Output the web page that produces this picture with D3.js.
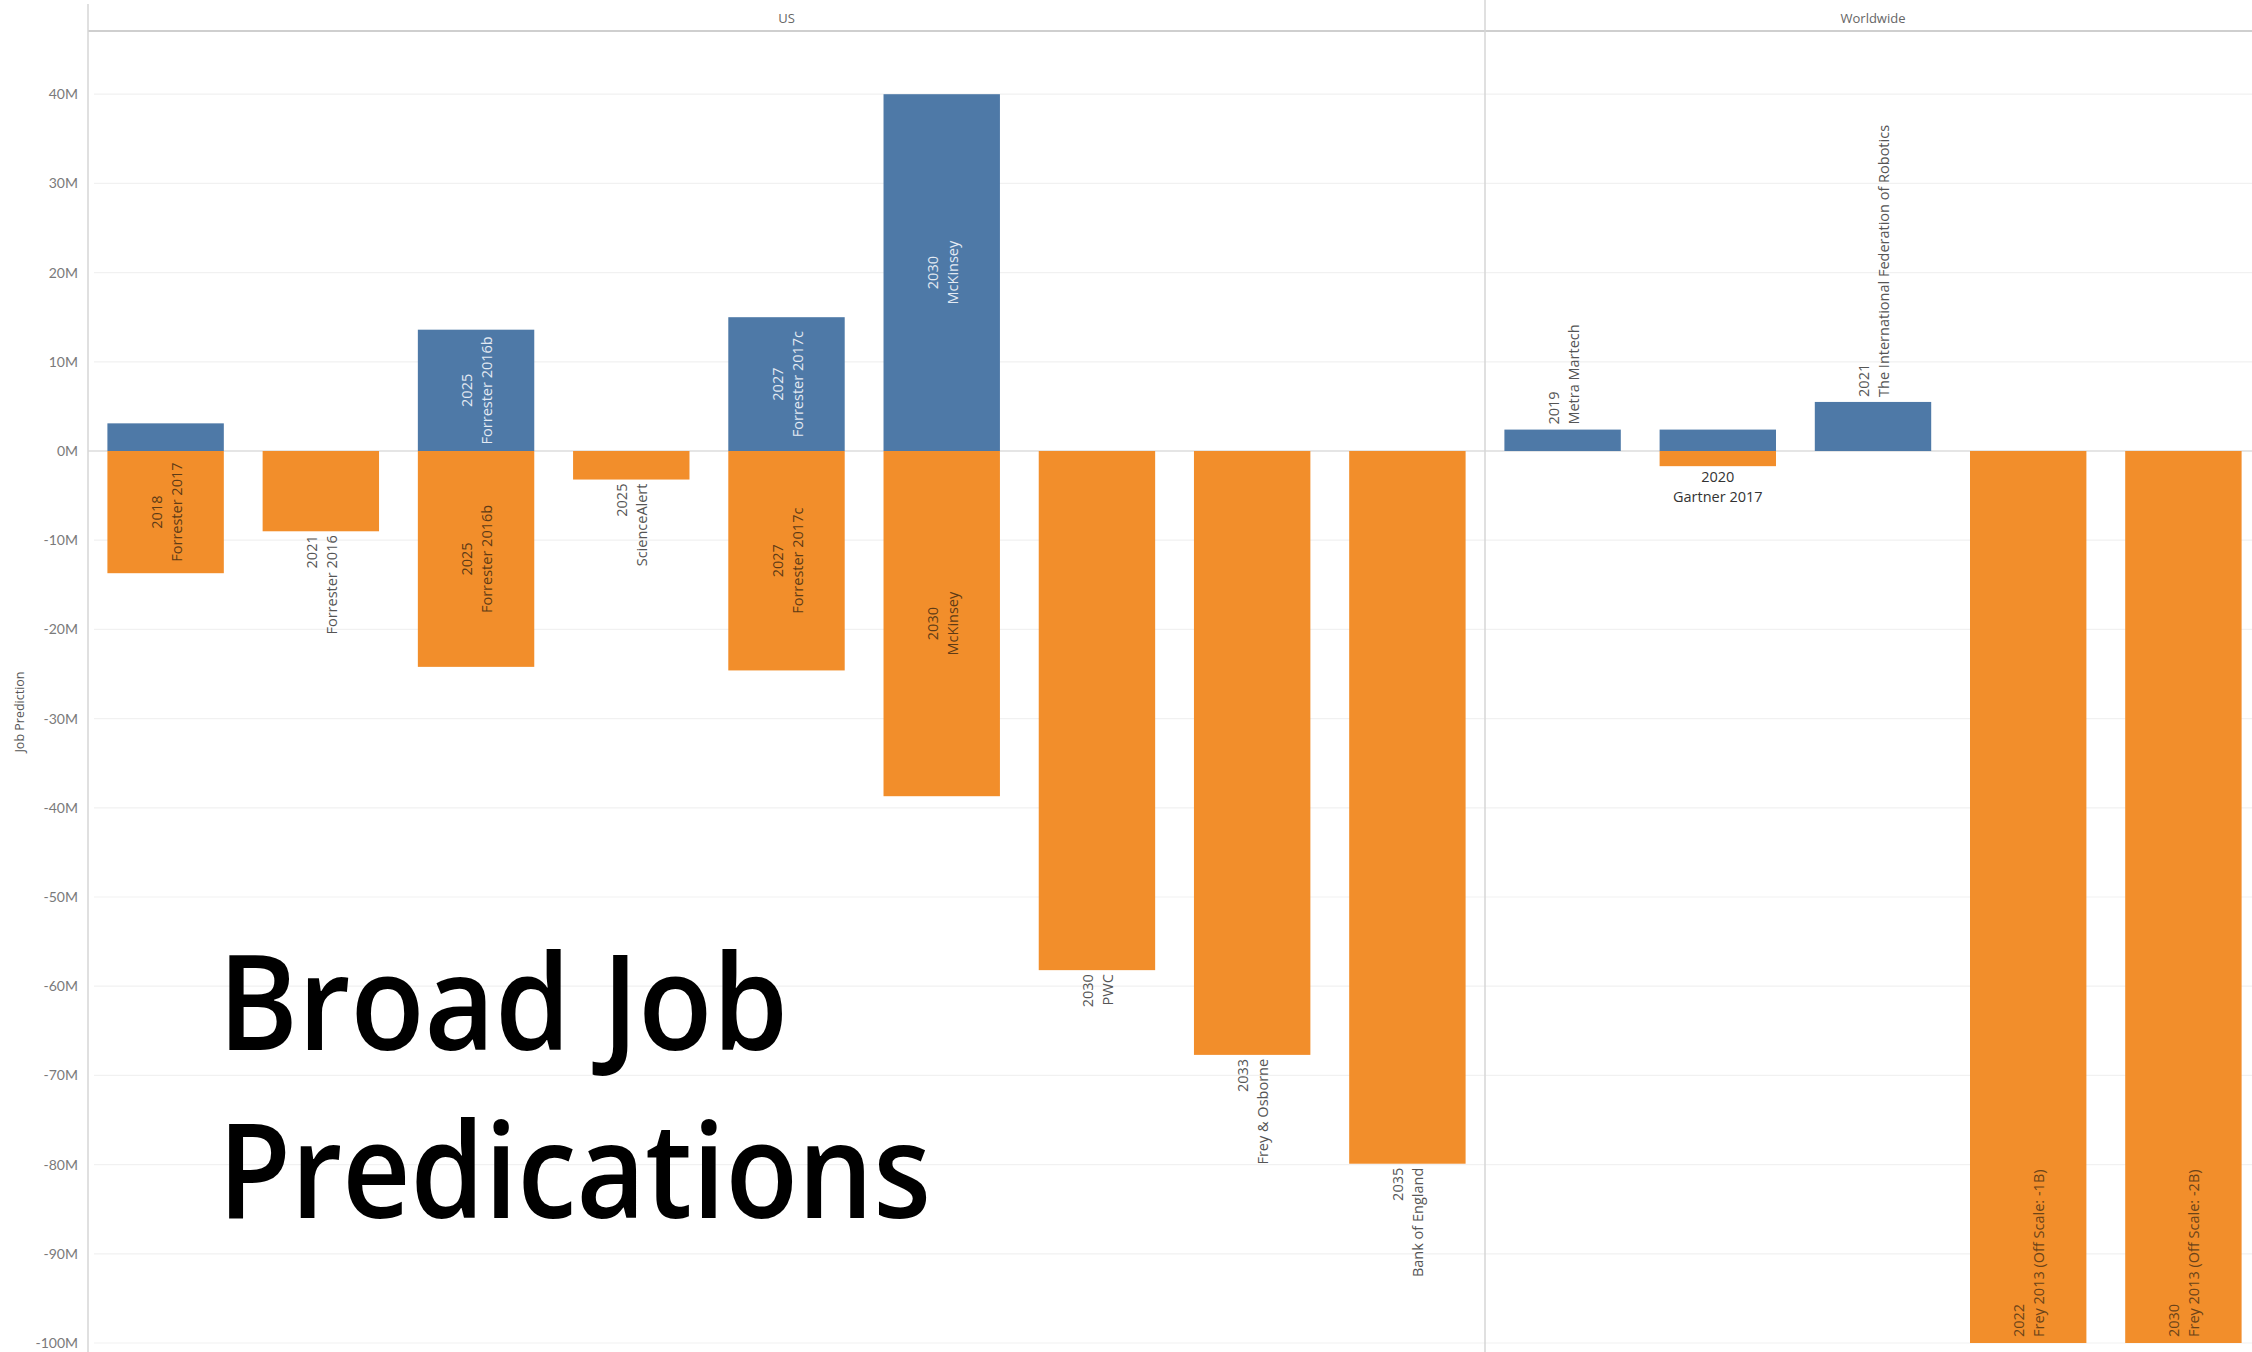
<!DOCTYPE html>
<html>
<head>
<meta charset="utf-8">
<script src="https://cdn.jsdelivr.net/npm/d3@7"></script>
<style>
  html, body { margin: 0; padding: 0; background: #fff; }
  svg { display: block; }
</style>
</head>
<body>
<svg id="chart" width="2252" height="1352"></svg>
<script>
// ---------------- DATA ----------------
const panes = ["US", "Worldwide"];

const usYears   = [2018, 2021, 2025, 2025, 2027, 2030, 2030, 2033, 2035];
const usSources = ["Forrester 2017", "Forrester 2016", "Forrester 2016b", "ScienceAlert",
                   "Forrester 2017c", "McKinsey", "PWC", "Frey & Osborne", "Bank of England"];
const usGains   = [3.1, 0, 13.6, 0, 15.0, 40.0, 0, 0, 0];            // millions
const usLosses  = [-13.7, -9.0, -24.2, -3.2, -24.6, -38.7, -58.2, -67.7, -79.9];

const wwYears   = [2019, 2020, 2021, 2022, 2030];
const wwSources = ["Metra Martech", "Gartner 2017", "The International Federation of Robotics",
                   "Frey 2013 (Off Scale: -1B)", "Frey 2013 (Off Scale: -2B)"];
const wwGains   = [2.4, 2.4, 5.5, 0, 0];
const wwLosses  = [0, -1.7, 0, -1000, -2000];

const yTicks = [40, 30, 20, 10, 0, -10, -20, -30, -40, -50, -60, -70, -80, -90, -100];
const yTitle = "Job Prediction";
const titleLines = ["Broad Job", "Predications"];

// ---------------- DRAWING ----------------
const W = 2252, H = 1352;
const svg = d3.select("#chart");
svg.append("rect").attr("width", W).attr("height", H).attr("fill", "#fff");

const BLUE = "#4e79a7", ORANGE = "#f28e2b";
const axisX = 88, headerY = 31, paneSplit = 1485, paneEnd = 2261;
const yMin = -100, yMax = 40;

// 0 at y=451, -100 at y=1343
const y = d3.scaleLinear().domain([-100, 0]).range([1343, 451]);

// label placement modes per bar: [gainLabel, lossLabel]
const usModes = [["none","in"],["none","below"],["in","in"],["none","below"],["in","in"],["in","in"],
                 ["none","below"],["none","below"],["none","below"]];
const wwModes = [["above","none"],["none","hbelow"],["above","none"],["none","inBottom"],["none","inBottom"]];

const paneDefs = [
  { name: panes[0], years: usYears, sources: usSources, gains: usGains, losses: usLosses, modes: usModes, x0: axisX, x1: paneSplit },
  { name: panes[1], years: wwYears, sources: wwSources, gains: wwGains, losses: wwLosses, modes: wwModes, x0: paneSplit, x1: paneEnd }
];

// gridlines
const grid = svg.append("g");
grid.selectAll("line").data(yTicks.filter(t => t !== 0)).join("line")
  .attr("x1", axisX + 6).attr("x2", W)
  .attr("y1", d => y(d)).attr("y2", d => y(d))
  .attr("stroke", "#f1f1f1").attr("stroke-width", 1.2);

// zero line
svg.append("line").attr("x1", axisX).attr("x2", W).attr("y1", y(0)).attr("y2", y(0))
  .attr("stroke", "#dcdcdc").attr("stroke-width", 1.5);

const labelFont = "'Open Sans', 'DejaVu Sans', sans-serif";
const clampV = v => Math.max(yMin, Math.min(yMax, v));

function rotLabel(g, cx, yPos, anchor, year, src, color) {
  const t = g.append("text")
    .attr("transform", `translate(${cx},${yPos}) rotate(-90)`)
    .attr("text-anchor", anchor)
    .attr("dominant-baseline", "central")
    .attr("font-family", labelFont)
    .attr("font-size", 14.5)
    .attr("fill", color);
  t.append("tspan").attr("x", 0).attr("y", -10).text(year);
  t.append("tspan").attr("x", 0).attr("y", 10).text(src);
}

paneDefs.forEach(p => {
  const idx = d3.range(p.years.length);
  const x = d3.scaleBand().domain(idx).range([p.x0, p.x1]).paddingInner(0.25).paddingOuter(0.125);
  const g = svg.append("g");

  // gains (blue)
  g.selectAll("rect.gain").data(idx.filter(i => p.gains[i] > 0)).join("rect")
    .attr("class", "gain")
    .attr("x", i => x(i)).attr("width", x.bandwidth())
    .attr("y", i => y(clampV(p.gains[i]))).attr("height", i => y(0) - y(clampV(p.gains[i])))
    .attr("fill", BLUE);

  // losses (orange), clipped at the axis minimum
  g.selectAll("rect.loss").data(idx.filter(i => p.losses[i] < 0)).join("rect")
    .attr("class", "loss")
    .attr("x", i => x(i)).attr("width", x.bandwidth())
    .attr("y", y(0)).attr("height", i => y(clampV(p.losses[i])) - y(0))
    .attr("fill", ORANGE);

  // labels
  idx.forEach(i => {
    const cx = x(i) + x.bandwidth() / 2;
    const [gm, lm] = p.modes[i];
    const gTop = y(clampV(p.gains[i])), lBot = y(clampV(p.losses[i])), z = y(0);
    if (gm === "in") rotLabel(g, cx, (gTop + z) / 2, "middle", p.years[i], p.sources[i], "#e3eaf3");
    if (gm === "above") rotLabel(g, cx, gTop - 5, "start", p.years[i], p.sources[i], "#555");
    if (lm === "in") rotLabel(g, cx, (lBot + z) / 2, "middle", p.years[i], p.sources[i], "#5e3b16");
    if (lm === "below") rotLabel(g, cx, lBot + 4, "end", p.years[i], p.sources[i], "#555");
    if (lm === "inBottom") rotLabel(g, cx, lBot - 6, "start", p.years[i], p.sources[i], "#6b4318");
    if (lm === "hbelow") {
      const t = g.append("text").attr("text-anchor", "middle")
        .attr("font-family", labelFont).attr("font-size", 14.5).attr("fill", "#333");
      t.append("tspan").attr("x", cx).attr("y", lBot + 16).text(p.years[i]);
      t.append("tspan").attr("x", cx).attr("y", lBot + 36).text(p.sources[i]);
    }
  });

  // header
  svg.append("text").attr("x", (p.x0 + p.x1) / 2).attr("y", 23)
    .attr("text-anchor", "middle").attr("font-family", labelFont).attr("font-size", 13)
    .attr("fill", "#666").text(p.name);
});

// structure lines
svg.append("line").attr("x1", axisX).attr("x2", W).attr("y1", headerY).attr("y2", headerY)
  .attr("stroke", "#cfcfcf").attr("stroke-width", 2);
svg.append("line").attr("x1", axisX).attr("x2", axisX).attr("y1", 4).attr("y2", H)
  .attr("stroke", "#d6d6d6").attr("stroke-width", 1.5);
svg.append("line").attr("x1", paneSplit).attr("x2", paneSplit).attr("y1", 0).attr("y2", H)
  .attr("stroke", "#d6d6d6").attr("stroke-width", 1.5);

// y axis
const yAxis = d3.axisLeft(y).tickValues(yTicks).tickFormat(d => d + "M").tickSize(0).tickPadding(10);
const ya = svg.append("g").attr("transform", `translate(${axisX},0)`).call(yAxis);
ya.select(".domain").remove();
ya.selectAll("text").attr("font-family", "Lato, 'Open Sans', sans-serif").attr("font-size", 14).attr("fill", "#7a7a7a");

svg.append("text")
  .attr("transform", `translate(19,${712}) rotate(-90)`)
  .attr("text-anchor", "middle").attr("dominant-baseline", "central")
  .attr("font-family", labelFont).attr("font-size", 12.5).attr("fill", "#555")
  .text(yTitle);

// big title
const tl = svg.append("g").attr("font-family", "'Open Sans', 'Noto Sans', sans-serif")
  .attr("font-weight", 600).attr("fill", "#000");
tl.append("text").attr("x", 218).attr("y", 1050).attr("font-size", 132)
  .attr("textLength", 570).attr("lengthAdjust", "spacingAndGlyphs").text(titleLines[0]);
tl.append("text").attr("x", 218).attr("y", 1218).attr("font-size", 132)
  .attr("textLength", 713).attr("lengthAdjust", "spacingAndGlyphs").text(titleLines[1]);
</script>
</body>
</html>
